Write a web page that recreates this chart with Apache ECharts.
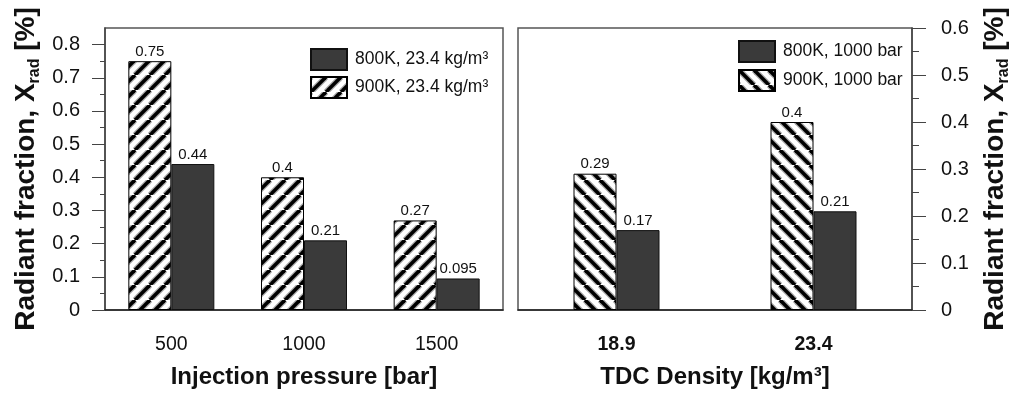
<!DOCTYPE html>
<html>
<head>
<meta charset="utf-8">
<title>Radiant fraction</title>
<style>
  html, body { margin: 0; padding: 0; background: #fff; }
  #main { width: 1013px; height: 394px; }
</style>
</head>
<body>
<div id="main"></div>
<script src="https://cdn.jsdelivr.net/npm/echarts@6/dist/echarts.min.js"></script>
<script>
// left panel: injection pressure
var pressureCats = ['500', '1000', '1500'];
var hot23 = [0.75, 0.4, 0.27];     // 900K, 23.4 kg/m3
var cold23 = [0.44, 0.21, 0.095];  // 800K, 23.4 kg/m3
// right panel: TDC density
var densityCats = ['18.9', '23.4'];
var hot1000 = [0.29, 0.4];         // 900K, 1000 bar
var cold1000 = [0.17, 0.21];       // 800K, 1000 bar
// left axis ticks (axis runs a bit past 0.8)
var leftMajor = [0, 0.1, 0.2, 0.3, 0.4, 0.5, 0.6, 0.7, 0.8];
var leftMinor = [0.05, 0.15, 0.25, 0.35, 0.45, 0.55, 0.65, 0.75];

var FONT = '"Liberation Sans", Arial, sans-serif';
var DARK = '#3a3a3a';

// striped fill, dir 1 = "/" , dir -1 = "\"
function hatch(dir) {
  var c = document.createElement('canvas');
  var s = 15;
  c.width = s; c.height = s;
  var g = c.getContext('2d');
  g.fillStyle = '#fff';
  g.fillRect(0, 0, s, s);
  [['#aaa', 6], ['#000', 3.6]].forEach(function (st) {
    g.strokeStyle = st[0];
    g.lineWidth = st[1];
    for (var k = -1; k <= 1; k++) {
      g.beginPath();
      if (dir > 0) {
        g.moveTo(k * s, s); g.lineTo(k * s + s, 0);
      } else {
        g.moveTo(k * s, 0); g.lineTo(k * s + s, s);
      }
      g.stroke();
    }
  });
  return { image: c, repeat: 'repeat' };
}

var yName = '{a|Radiant fraction, X}{b|rad}{a| [%]}';
var yNameStyle = {
  rich: {
    a: { fontFamily: FONT, fontSize: 28, fontWeight: 'bold', color: '#111', lineHeight: 34 },
    b: { fontFamily: FONT, fontSize: 16, fontWeight: 'bold', color: '#111', lineHeight: 34, verticalAlign: 'bottom', padding: [12, 0, 0, 0] }
  }
};

function barLabel() {
  return { show: true, position: 'top', distance: 2, fontFamily: FONT, fontSize: 15, color: '#111' };
}

var legendText = { fontFamily: FONT, fontSize: 17.5, color: '#111', padding: [0, 0, 0, 3] };

var chart = echarts.init(document.getElementById('main'));
chart.setOption({
  animation: false,
  backgroundColor: '#fff',
  grid: [
    { left: 105, top: 28, width: 398, height: 284, show: true, borderColor: '#555', borderWidth: 1.5 },
    { left: 518, top: 28, width: 398, height: 284, show: true, borderColor: '#555', borderWidth: 1.5 }
  ],
  legend: [
    {
      left: 310, top: 48, orient: 'vertical', padding: 0, icon: 'rect',
      itemWidth: 36, itemHeight: 21, itemGap: 5,
      data: ['800K, 23.4 kg/m³', '900K, 23.4 kg/m³'],
      textStyle: legendText
    },
    {
      left: 738, top: 40, orient: 'vertical', padding: 0, icon: 'rect',
      itemWidth: 36, itemHeight: 21, itemGap: 6,
      data: ['800K, 1000 bar', '900K, 1000 bar'],
      textStyle: legendText
    }
  ],
  xAxis: [
    {
      type: 'category', gridIndex: 0, data: pressureCats,
      name: 'Injection pressure [bar]', nameLocation: 'middle', nameGap: 55,
      nameTextStyle: { fontFamily: FONT, fontSize: 24, fontWeight: 'bold', color: '#111' },
      axisLine: { lineStyle: { color: '#222', width: 1.5 } },
      axisTick: { alignWithLabel: true, length: 15, lineStyle: { color: '#222' } },
      axisLabel: { margin: 25, fontFamily: FONT, fontSize: 19.5, color: '#111' }
    },
    {
      type: 'category', gridIndex: 1, data: densityCats,
      name: 'TDC Density [kg/m³]', nameLocation: 'middle', nameGap: 55,
      nameTextStyle: { fontFamily: FONT, fontSize: 24, fontWeight: 'bold', color: '#111' },
      axisLine: { lineStyle: { color: '#222', width: 1.5 } },
      axisTick: { alignWithLabel: true, length: 15, lineStyle: { color: '#222' } },
      axisLabel: { margin: 25, fontFamily: FONT, fontSize: 19.5, fontWeight: 'bold', color: '#111' }
    }
  ],
  yAxis: [
    {
      type: 'value', gridIndex: 0, position: 'left', min: 0, max: 0.85,
      name: yName, nameLocation: 'middle', nameGap: 62, nameRotate: 90, nameTextStyle: yNameStyle,
      axisLine: { show: true, lineStyle: { color: '#444', width: 1.5 } },
      axisTick: { show: true, length: 13, customValues: leftMajor, lineStyle: { color: '#444' } },
      splitLine: { show: false },
      axisLabel: { margin: 25, fontFamily: FONT, fontSize: 20, color: '#111', customValues: leftMajor }
    },
    {
      type: 'value', gridIndex: 0, position: 'left', min: 0, max: 0.85,
      axisLine: { show: false },
      axisTick: { show: true, length: 5, customValues: leftMinor, lineStyle: { color: '#444' } },
      splitLine: { show: false },
      axisLabel: { show: false }
    },
    {
      type: 'value', gridIndex: 1, position: 'right', min: 0, max: 0.6, interval: 0.1,
      name: yName, nameLocation: 'middle', nameGap: 66, nameRotate: 90, nameTextStyle: yNameStyle,
      axisLine: { show: true, lineStyle: { color: '#444', width: 1.5 } },
      axisTick: { show: true, length: 14, lineStyle: { color: '#444' } },
      minorTick: { show: true, splitNumber: 2, length: 7, lineStyle: { color: '#444' } },
      splitLine: { show: false },
      axisLabel: { margin: 29, fontFamily: FONT, fontSize: 20, color: '#111' }
    }
  ],
  series: [
    {
      name: '900K, 23.4 kg/m³', type: 'bar', xAxisIndex: 0, yAxisIndex: 0,
      data: hot23, barWidth: 43, barGap: '0%',
      itemStyle: { color: hatch(1), borderColor: '#000', borderWidth: 1 },
      label: barLabel()
    },
    {
      name: '800K, 23.4 kg/m³', type: 'bar', xAxisIndex: 0, yAxisIndex: 0,
      data: cold23, barWidth: 43, barGap: '0%',
      itemStyle: { color: DARK, borderColor: '#111', borderWidth: 1 },
      label: barLabel()
    },
    {
      name: '900K, 1000 bar', type: 'bar', xAxisIndex: 1, yAxisIndex: 2,
      data: hot1000, barWidth: 43, barGap: '0%',
      itemStyle: { color: hatch(-1), borderColor: '#000', borderWidth: 1 },
      label: barLabel()
    },
    {
      name: '800K, 1000 bar', type: 'bar', xAxisIndex: 1, yAxisIndex: 2,
      data: cold1000, barWidth: 43, barGap: '0%',
      itemStyle: { color: DARK, borderColor: '#111', borderWidth: 1 },
      label: barLabel()
    }
  ]
});
</script>
</body>
</html>
